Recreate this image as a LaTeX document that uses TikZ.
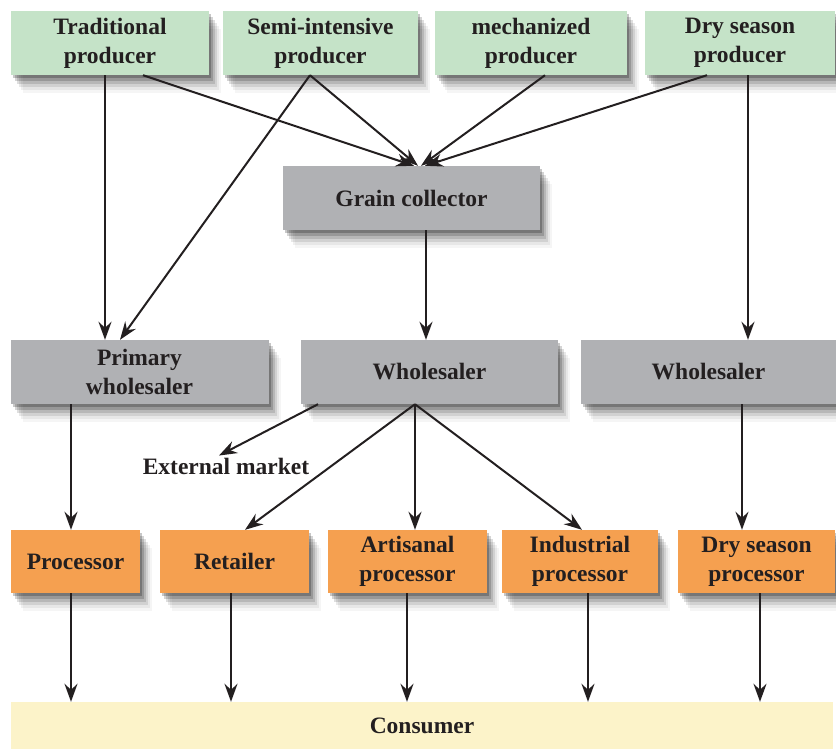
\documentclass[tikz,border=0pt]{standalone}
\usepackage{fontspec}
\setmainfont{Liberation Serif}
\usepackage{xcolor}
\usetikzlibrary{arrows.meta,shadows}
\definecolor{ink}{HTML}{231F20}
\definecolor{leaf}{HTML}{C5E3C8}
\definecolor{stone}{HTML}{B0B1B4}
\definecolor{amber}{HTML}{F5A050}
\definecolor{cream}{HTML}{FCF3C9}

\begin{document}
\begin{tikzpicture}[
  x=1pt,y=-1pt,
  every node/.style={font=\fontsize{23.5}{29}\selectfont\bfseries,text=ink,align=center,inner sep=0pt},
  soft/.style={drop shadow={shadow xshift=2pt,shadow yshift=-3pt,opacity=.22,fill=black},
               drop shadow={shadow xshift=4pt,shadow yshift=-6pt,opacity=.17,fill=black},
               drop shadow={shadow xshift=6pt,shadow yshift=-9pt,opacity=.13,fill=black},
               drop shadow={shadow xshift=8pt,shadow yshift=-12pt,opacity=.09,fill=black},
               drop shadow={shadow xshift=10pt,shadow yshift=-15pt,opacity=.06,fill=black},
               drop shadow={shadow xshift=12pt,shadow yshift=-18pt,opacity=.04,fill=black}},
  grower/.style={soft,fill=leaf,minimum height=64pt},
  trader/.style={soft,fill=stone,minimum height=64pt},
  maker/.style={soft,fill=amber,minimum height=63pt},
  arrow/.style={-{Stealth[length=18pt,width=13pt,inset=6pt]},draw=ink,line width=2pt}
]
\useasboundingbox (0,0) rectangle (836,748);
% producers
\node[grower,minimum width=198pt] (trad) at (110,43) {Traditional\\producer};
\node[grower,minimum width=195pt] (semi) at (320.5,43) {Semi-intensive\\producer};
\node[grower,minimum width=192pt] (mech) at (531,43) {mechanized\\producer};
\node[grower,minimum width=190pt] (dry) at (740,43) {Dry season\\producer};
% traders
\node[trader,minimum width=257pt] (coll) at (411.5,198) {Grain collector};
\node[trader,minimum width=258pt] (prim) at (139.5,372) {Primary\\wholesaler};
\node[trader,minimum width=257pt] (whole) at (429.5,372) {Wholesaler};
\node[trader,minimum width=255pt] (wholeR) at (708.5,372) {Wholesaler};
\node[inner sep=2pt] (ext) at (226,466) {External market};
% processors and retail
\node[maker,minimum width=129pt] (proc) at (75.5,561.5) {Processor};
\node[maker,minimum width=149pt] (ret) at (234.5,561.5) {Retailer};
\node[maker,minimum width=159pt] (art) at (407.5,561.5) {Artisanal\\processor};
\node[maker,minimum width=156pt] (ind) at (580,561.5) {Industrial\\processor};
\node[maker,minimum width=157pt] (dryp) at (756.5,561.5) {Dry season\\processor};
\node[fill=cream,minimum width=822pt,minimum height=48pt] (cons) at (422,726) {Consumer};
% flows
\draw[arrow] ([xshift=-5pt]trad.south)--([xshift=-34.5pt]prim.north); \draw[arrow] ([xshift=33pt]trad.south)--([xshift=2.5pt]coll.north);
\draw[arrow] ([xshift=-10.5pt]semi.south)--([xshift=-19.5pt]prim.north); \draw[arrow] ([xshift=-10.5pt]semi.south)--([xshift=6.5pt]coll.north);
\draw[arrow] ([xshift=14pt]mech.south)--([xshift=9.5pt]coll.north); \draw[arrow] ([xshift=-33pt]dry.south)--([xshift=13.5pt]coll.north);
\draw[arrow] ([xshift=8pt]dry.south)--([xshift=39.5pt]wholeR.north);
\draw[arrow] ([xshift=14.5pt]coll.south)--([xshift=-3.5pt]whole.north);
\draw[arrow] ([xshift=-68.5pt]prim.south)--([xshift=-4.5pt]proc.north);
\draw[arrow] ([xshift=-111.5pt]whole.south)--([xshift=-7pt]ext.north);
\draw[arrow] ([xshift=-14.5pt]whole.south)--([xshift=10.5pt]ret.north); \draw[arrow] ([xshift=-14.5pt]whole.south)--([xshift=7.5pt]art.north);
\draw[arrow] ([xshift=-14.5pt]whole.south)--([xshift=2pt]ind.north);
\draw[arrow] ([xshift=33.5pt]wholeR.south)--([xshift=-14.5pt]dryp.north);
\draw[arrow] ([xshift=-4.5pt]proc.south)--([xshift=-351pt]cons.north); \draw[arrow] ([xshift=-3.5pt]ret.south)--([xshift=-191pt]cons.north);
\draw[arrow] ([xshift=-0.5pt]art.south)--([xshift=-15pt]cons.north); \draw[arrow] ([xshift=8pt]ind.south)--([xshift=166pt]cons.north);
\draw[arrow] ([xshift=3.5pt]dryp.south)--([xshift=338pt]cons.north);
\end{tikzpicture}
\end{document}
